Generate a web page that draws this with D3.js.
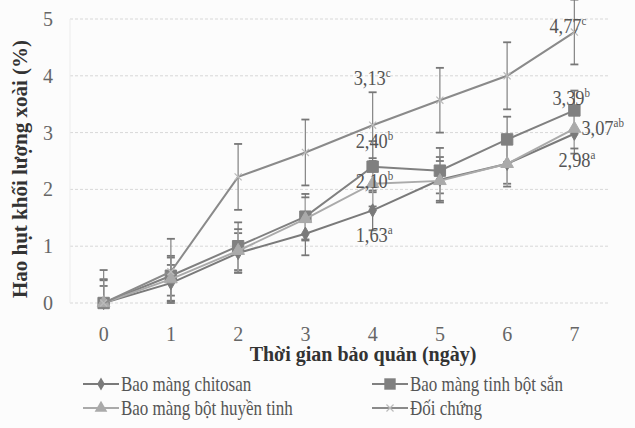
<!DOCTYPE html>
<html lang="vi">
<head>
<meta charset="UTF-8">
<title>Hao hụt khối lượng xoài</title>
<script src="https://d3js.org/d3.v7.min.js"></script>
<style>
  body { margin: 0; background: #fcfcfc; }
  text { font-family: "Liberation Serif", "DejaVu Serif", serif; }
</style>
</head>
<body>
<script>
    // du lieu doc tu hinh
    const days = [0, 1, 2, 3, 4, 5, 6, 7];
    const yTicks = [0, 1, 2, 3, 4, 5];
    const seriesNames = ["Bao màng chitosan", "Bao màng tinh bột sắn", "Bao màng bột huyền tinh", "Đối chứng"];
    const chitosan = [0, 0.35, 0.88, 1.22, 1.63, 2.17, 2.45, 2.98];
    const chitosanErr = [0.30, 0.32, 0.35, 0.38, 0.35, 0.40, 0.35, 0.35];
    const tinhBotSan = [0, 0.48, 1.00, 1.52, 2.40, 2.33, 2.88, 3.39];
    const tinhBotSanErr = [0.40, 0.35, 0.42, 0.40, 0.45, 0.40, 0.40, 0.35];
    const huyenTinh = [0, 0.42, 0.92, 1.48, 2.10, 2.15, 2.45, 3.07];
    const huyenTinhErr = [0.42, 0.38, 0.38, 0.38, 0.40, 0.35, 0.40, 0.35];
    const doiChung = [0, 0.55, 2.22, 2.65, 3.13, 3.57, 4.00, 4.77];
    const doiChungErr = [0.58, 0.58, 0.58, 0.58, 0.58, 0.57, 0.59, 0.57];
    // nhan so lieu: [series index, day, text, superscript]
    const labels = [
        [3, 4, "3,13", "c"], [3, 7, "4,77", "c"],
        [1, 4, "2,40", "b"], [1, 7, "3,39", "b"],
        [2, 4, "2,10", "b"], [2, 7, "3,07", "ab"],
        [0, 4, "1,63", "a"], [0, 7, "2,98", "a"]
    ];

    const W = 635, H = 428;
    const svg = d3.select("body").append("svg")
        .attr("width", W).attr("height", H);

    const x = d3.scaleBand().domain(days).range([70, 608]);
    const y = d3.scaleLinear().domain([0, 5]).range([303, 19]);
    const cx = d => x(d) + x.bandwidth() / 2;

    // luoi
    svg.append("g").selectAll("line").data(yTicks).enter().append("line")
        .attr("x1", 70).attr("x2", 608)
        .attr("y1", d => y(d)).attr("y2", d => y(d))
        .style("stroke", "#d8d8d8").style("stroke-dasharray", "3,2").style("stroke-width", 1);
    svg.append("line").attr("x1", 70).attr("x2", 70).attr("y1", 19).attr("y2", 303)
        .style("stroke", "#ececec");

    // truc
    const ya = svg.append("g").attr("transform", "translate(56,0)")
        .call(d3.axisLeft(y).tickValues(yTicks).tickFormat(d3.format("d")).tickSize(0).tickPadding(0));
    ya.select(".domain").remove();
    ya.selectAll("text").style("font-size", "20px").style("fill", "#666")
        .attr("text-anchor", "middle").attr("x", -8);

    const xa = svg.append("g").attr("transform", "translate(0,327)")
        .call(d3.axisBottom(x).tickSize(0).tickPadding(0));
    xa.select(".domain").remove();
    xa.selectAll("text").style("font-size", "20px").style("fill", "#666");

    svg.append("text").attr("x", 363).attr("y", 361).attr("text-anchor", "middle")
        .style("font-size", "20px").style("font-weight", "bold").style("fill", "#333")
        .text("Thời gian bảo quản (ngày)");
    svg.append("text").attr("transform", "translate(27,169) rotate(-90)").attr("text-anchor", "middle")
        .style("font-size", "21px").style("font-weight", "bold").style("fill", "#333")
        .text("Hao hụt khối lượng xoài (%)");

    const series = [
        {name: seriesNames[0], vals: chitosan, err: chitosanErr, color: "#7a7a7a", sym: d3.symbolDiamond, size: 50},
        {name: seriesNames[1], vals: tinhBotSan, err: tinhBotSanErr, color: "#808080", sym: d3.symbolSquare, size: 130},
        {name: seriesNames[2], vals: huyenTinh, err: huyenTinhErr, color: "#aaaaaa", sym: d3.symbolTriangle, size: 70},
        {name: seriesNames[3], vals: doiChung, err: doiChungErr, color: "#8a8a8a", sym: d3.symbolCross, size: 60}
    ];

    const line = d3.line().x((d, i) => cx(days[i])).y(d => y(d));

    // thanh sai so
    series.forEach(function (s) {
        const g = svg.append("g");
        s.vals.forEach(function (v, i) {
            const xx = cx(days[i]);
            const lo = y(Math.max(0, v - s.err[i])), hi = y(v + s.err[i]);
            g.append("line").attr("x1", xx).attr("x2", xx).attr("y1", lo).attr("y2", hi)
                .style("stroke", s.color).style("stroke-width", 1.3);
            [lo, hi].forEach(function (yy) {
                g.append("line").attr("x1", xx - 4).attr("x2", xx + 4).attr("y1", yy).attr("y2", yy)
                    .style("stroke", "#777").style("stroke-width", 1.8);
            });
        });
    });

    // duong va diem
    series.forEach(function (s) {
        svg.append("path").datum(s.vals).attr("d", line)
            .style("fill", "none").style("stroke", s.color).style("stroke-width", 2);
        const pts = svg.append("g").selectAll("path").data(s.vals).enter().append("path")
            .attr("transform", (d, i) => `translate(${cx(days[i])},${y(d)})` + (s.sym === d3.symbolCross ? " rotate(45)" : ""))
            .attr("d", d3.symbol().type(s.sym).size(s.size));
        if (s.sym === d3.symbolCross) {
            pts.attr("d", "M-5,0L5,0M0,-5L0,5").style("fill", "none").style("stroke", "#bbb").style("stroke-width", 1.2);
        } else {
            pts.style("fill", s.color).style("stroke", s.color);
        }
    });

    // nhan
    const offs = {
        "3-4": [-19, -40], "3-7": [-25, 1], "1-4": [-17, -19], "1-7": [-22, -5],
        "2-4": [-17, 4], "2-7": [7, 6], "0-4": [-17, 32], "0-7": [-16, 33]
    };
    labels.forEach(function (l) {
        const s = series[l[0]];
        const o = offs[l[0] + "-" + l[1]];
        const t = svg.append("text")
            .attr("transform", `translate(${cx(l[1]) + o[0]},${y(s.vals[l[1]]) + o[1]}) scale(0.92,1)`)
            .style("font-size", "20px").style("fill", "#555");
        t.append("tspan").text(l[2]);
        t.append("tspan").attr("dy", -8).style("font-size", "12px").text(l[3]);
    });

    // chu giai
    const leg = [[0, 83, 384], [1, 372, 384], [2, 83, 408], [3, 372, 408]];
    leg.forEach(function (d) {
        const s = series[d[0]];
        const g = svg.append("g").attr("transform", `translate(${d[1]},${d[2]})`);
        g.append("line").attr("x1", 0).attr("x2", 36).style("stroke", s.color).style("stroke-width", 2);
        if (s.sym === d3.symbolCross) {
            g.append("path").attr("transform", "translate(18,0) rotate(45)").attr("d", "M-5,0L5,0M0,-5L0,5")
                .style("stroke", "#bbb").style("stroke-width", 1.2);
        } else {
            g.append("path").attr("transform", "translate(18,0)")
                .attr("d", d3.symbol().type(s.sym).size(s.size))
                .style("fill", s.color);
        }
        g.append("text").attr("transform", "translate(38,7) scale(0.85,1)")
            .style("font-size", "20px").style("fill", "#555")
            .text(s.name);
    });
</script>
</body>
</html>
